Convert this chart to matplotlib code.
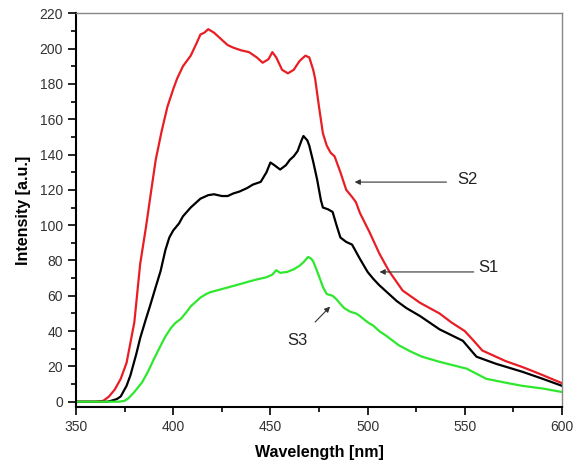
import matplotlib.pyplot as plt
from matplotlib.ticker import MultipleLocator

plt.rcParams['font.family'] = ['Liberation Sans', 'DejaVu Sans']

# S2 (red)
wl_s2 = [350, 360, 364, 367, 370, 373, 376, 380, 383, 386, 389, 391, 394, 397,
         400, 402, 405, 409, 412, 414, 416, 418, 421, 425, 428, 431, 435, 439,
         443, 446, 449, 451, 453, 456, 459, 462, 465, 468, 470, 472, 473, 475,
         477, 479, 481, 483, 486, 489, 492, 494, 496, 501, 506, 511, 518, 527,
         537, 543, 550, 555, 559, 565, 571, 580, 588, 600]
s2 = [0, 0, 0.5, 3, 7, 13, 22, 45, 78, 99, 122, 137, 153, 167,
      177, 183, 190, 196, 203, 208, 209, 211, 209, 205, 202, 200.5, 199, 198,
      195, 192, 194, 198, 195, 188, 186, 188, 193, 196, 195, 188, 183, 167,
      152, 145, 141, 139, 130, 120, 116, 113, 107, 96, 84, 74, 63, 56,
      50, 45, 40, 34, 29, 26, 23, 19.5, 16, 10.5]

# S1 (black)
wl_s1 = [350, 366, 368, 371, 373, 376, 378, 381, 383, 386, 388, 391, 393.5, 396,
         398, 400, 403, 405, 409, 414, 418, 421, 425, 428, 431, 434, 438, 441,
         445, 448, 450, 452, 455, 458, 460, 462, 464, 466, 467, 469, 470, 472,
         474, 476, 477, 479.6, 482, 484, 486, 489, 492, 494, 496, 500, 503, 506,
         511, 515, 520, 527, 537, 549, 556, 566, 579.5, 590, 600]
s1 = [0, 0, 0.5, 1.5, 3, 9, 15, 27, 36, 47, 54, 65, 74, 86,
      93, 97, 101, 105, 110, 115, 117, 117.5, 116.5, 116.5, 118, 119, 121, 123,
      124.5, 130, 135.5, 134, 131.5, 134, 137, 139, 142, 148, 150.5, 148, 145, 136,
      126, 114, 110, 109, 107.5, 100, 93, 90.5, 89, 85, 81, 73.5, 69.5, 66,
      61, 57, 53, 48.5, 41, 34.5, 25.5, 21.5, 17, 13, 9]

# S3 (green)
wl_s3 = [350, 372, 375, 377, 380, 384, 387, 390, 393.5, 396, 399, 401, 404, 407,
         409, 412, 414, 417, 419, 424, 429, 434, 440, 444, 448, 451, 453, 455,
         458.6, 462, 465, 467, 469.4, 471, 472, 474, 475.5, 477, 479, 482, 484,
         486, 488, 491, 494, 496, 500, 503, 506, 510, 516, 522, 528, 537, 551,
         561, 570, 579.5, 590, 600]
s3 = [0, 0, 0.5, 2, 5.5, 11, 17, 24, 31.7, 37, 42, 44.5, 47, 51,
      54, 57, 59, 61, 62, 63.5, 65, 66.5, 68.4, 69.5, 70.5, 72, 74.5, 73,
      73.5, 75, 77, 79, 82, 81, 79.5, 74, 69.6, 65, 61, 60, 58,
      55.4, 53, 51, 50, 48.6, 45, 43, 40, 37, 32, 28.5, 25.5, 22.6, 18.7,
      13, 11, 9, 7.5, 5.5]

fig = plt.figure(figsize=(5.75, 4.68), dpi=100)
ax = fig.add_axes([0.1322, 0.1303, 0.8452, 0.8413])

ax.plot(wl_s2, s2, color='#e81e25', lw=1.6)
ax.plot(wl_s1, s1, color='black', lw=1.6)
ax.plot(wl_s3, s3, color='#2ee82e', lw=1.6)

ax.set_xlim(350, 600)
ax.set_ylim(-3, 220)
ax.xaxis.set_major_locator(MultipleLocator(50))
ax.xaxis.set_minor_locator(MultipleLocator(25))
ax.yaxis.set_major_locator(MultipleLocator(20))
ax.yaxis.set_minor_locator(MultipleLocator(10))
ax.tick_params(which='both', direction='out', top=False, right=False,
               labelsize=10, labelcolor='#333333', width=1.2)
ax.tick_params(which='major', length=6)
ax.tick_params(which='minor', length=3.5)

for side in ['left', 'bottom']:
    ax.spines[side].set_linewidth(1.5)
    ax.spines[side].set_color('black')
for side in ['top', 'right']:
    ax.spines[side].set_linewidth(1.0)
    ax.spines[side].set_color('#888888')

ax.set_xlabel('Wavelength [nm]', fontsize=11.5, fontweight='bold', labelpad=8)
ax.set_ylabel('Intensity [a.u.]', fontsize=11.5, fontweight='bold', labelpad=6)

arrow = dict(arrowstyle='-|>', color='#333333', lw=0.8, mutation_scale=8)
ax.annotate('', xy=(491.9, 124.4), xytext=(542, 124.4), arrowprops=arrow)
ax.text(546, 126, 'S2', fontsize=12, va='center', ha='left', color='#222222')
ax.annotate('', xy=(504.7, 73.5), xytext=(556, 73.5), arrowprops=arrow)
ax.text(557, 76, 'S1', fontsize=12, va='center', ha='left', color='#222222')
ax.annotate('', xy=(481.7, 55), xytext=(472, 44), arrowprops=arrow)
ax.text(464, 34.5, 'S3', fontsize=12, va='center', ha='center', color='#222222')

fig.savefig('out.png', dpi=100)
